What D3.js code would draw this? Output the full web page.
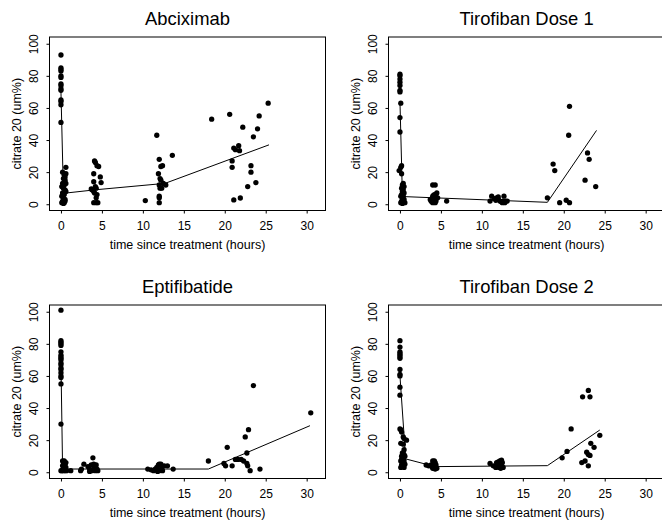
<!DOCTYPE html>
<html>
<head>
<meta charset="utf-8">
<script src="https://cdn.jsdelivr.net/npm/d3@7"></script>
<style>
  html, body { margin: 0; padding: 0; background: #ffffff; }
  svg { display: block; }
  text { font-family: "Liberation Sans", Arial, sans-serif; fill: #000; }
</style>
</head>
<body>
<svg id="chart" width="662" height="525"></svg>
<script>
// ---------------- DATA ----------------
const panelTitles = ["Abciximab", "Tirofiban Dose 1", "Eptifibatide", "Tirofiban Dose 2"];
const xTicks = [0, 5, 10, 15, 20, 25, 30];
const yTicks = [0, 20, 40, 60, 80, 100];
const xLabel = "time since treatment (hours)";
const yLabel = "citrate 20 (um%)";

// Abciximab: observed [hours, value]
const abciximabPoints = [
  [0,93],[0,85],[0,84],[0,83],[0,80],[0,79],[0,75],[0,74],[0,72],[0,71],[0,65],[0,64],[0,62],[0,51],
  [0.2,20],[0.4,18],[0.3,16],[0.5,15],[0.2,13],[0.4,12],[0.3,10],[0.5,9],[0.2,7],[0.4,6],[0.1,5],[0.3,4],
  [0.5,3],[0.2,2],[0.4,1],[0.3,0.5],[0.6,23],[0.5,17],[0.6,13],[0.6,8],[0.5,2],[0.1,1],[0.6,19],[0.1,11],
  [4.1,27],[4.2,26],[4.4,24],[4.6,23.5],[4.8,17],[4.9,13.5],[4.0,19],[4.0,14],[3.8,9],[4.0,8],[4.2,11],
  [4.3,10],[4.1,7],[4.4,6],[4.3,4],[4.0,1],[4.3,1],[4.5,1],[3.7,9.5],
  [10.3,2.3],
  [11.7,43],[12.0,28],[11.9,19],[12.2,23.5],[12.4,24],[12.1,16],[12.2,15],[12.0,12],[12.1,10],[12.3,10],
  [12.0,5],[12.0,4],[12.0,1],[12.8,12],[13.6,30.5],[12.5,13],
  [18.4,53],[20.6,56],[20.9,27],[20.9,23],[21.1,35],[21.3,34],[21.1,2.7],[21.7,36.5],[21.8,33.4],[22.2,48],
  [21.9,3.9],[22.8,11],[23.2,24],[23.2,20],[23.5,42],[23.8,13.5],[24.0,47],[24.2,55],[25.3,63]
];
const abciximabFit = [[0,70],[0.3,6.8],[4.2,9],[12.7,13],[25.4,37]];

// Tirofiban Dose 1
const tirofiban1Points = [
  [0,81],[0,80],[0,78],[0,76],[0,74],[0,71],[0,70],[0.1,63],[0,54],[0,45],[0.2,24],[0.1,23],[-0.1,21],[0.2,19],
  [0.4,13],[0.3,12],[0.5,11],[0.2,10],[0.4,9],[0.3,8],[0.5,7],[0.2,6],[0.4,5],[0.1,5],[0.3,4],[0.5,3],[0.2,2],
  [0.4,1.5],[0.6,1],[0.1,1],[0.3,0.5],
  [4.0,12],[4.3,12],[3.7,3],[3.8,2],[4.0,4],[4.0,5],[4.2,6],[4.5,7],[4.2,3],[4.3,1],[4.0,1],[4.4,2],[3.9,1.5],
  [4.6,4],[4.1,5.5],[4.4,4.5],[5.7,2],
  [11.0,2],[11.2,5],[11.5,3.5],[11.8,4],[12.0,3],[12.2,2],[12.4,1.5],[12.5,1],[12.6,2],[12.7,5],[12.9,2],
  [13.1,2],[12.0,4.5],[11.7,2.5],[12.8,1],
  [18.0,4],[18.7,25],[18.9,21],[19.5,1],[20.3,2.5],[20.6,43],[20.7,61],[20.7,1],[22.6,15],[22.9,32],[23.1,28],[23.9,11]
];
const tirofiban1Fit = [[0,64],[0.3,4.8],[18,1.2],[24,46]];

// Eptifibatide
const eptifibatidePoints = [
  [0,101],[0,82],[0,81],[0,80],[0,79],[0,75],[0,73],[0,72],[0,71],[0,70],[0,68],[0,67],[0,65],[0,64],[0,62],
  [0,60],[0,59],[0,55],[0,30],
  [0.2,7],[0.4,7],[0.6,6],[0.3,5],[0.5,5],[0.2,4],[0.4,3],[0.6,3],[0.3,2],[0.5,2],[0.1,1],[0.3,1],[0.5,1],
  [0.7,1],[0,1],[1.2,1],
  [2.4,1],[2.5,2],[2.8,5],[3.3,3.5],[3.5,2],[3.7,4.5],[3.8,1],[3.9,9],[4.0,5],[4.1,3],[4.2,1],[4.3,4.5],
  [4.4,2],[4.5,1],[3.5,0.5],
  [10.6,2],[11.0,1.5],[11.3,1],[11.5,2],[11.7,3],[11.9,4.5],[12.0,5],[12.2,5],[12.3,3],[12.0,1],[11.8,0.5],
  [12.6,4],[13.0,4],[13.7,2],[12.4,1],
  [18.0,7],[19.9,5.5],[20.1,4],[20.3,15.5],[20.9,4],[21.3,8],[21.6,8],[22.0,8],[22.3,7],[22.5,22],[22.7,12],
  [22.7,5.5],[22.8,4],[22.9,26.5],[23.1,1],[23.5,54],[24.3,2],[30.5,37]
];
const eptifibatideFit = [[0,68],[0.2,2],[18,2],[30.4,29]];

// Tirofiban Dose 2
const tirofiban2Points = [
  [0,82],[0,78],[0,75],[0,74],[0,73],[0,72],[0,71],[0,64],[0,61],[0,60],[0,53],[0,48],[0,27],[0.1,26.5],
  [0.2,25],[0.4,22],[0.8,20],[0.5,21],[0.1,18],[0.4,17.5],[0.5,14],[0.3,12],[0.5,11],[0.2,10],[0.6,10],
  [0.4,9],[0.2,8],[0.5,7],[0.1,7],[0.3,6],[0.6,5],[0.4,4],[0.1,3],[0.5,3],[0.2,4.5],
  [3.2,4.5],[3.5,4],[3.8,4.5],[4.0,7],[4.2,7],[4.1,5.5],[4.3,6],[4.4,4.5],[4.2,3],[4.0,2.5],[4.5,2.5],
  [3.9,3.5],[4.3,2],
  [11.0,5.5],[11.4,4],[11.7,3],[11.9,5],[12.0,6.5],[12.2,7],[12.4,7.5],[12.5,6],[12.1,3],[12.3,2.5],
  [12.6,3],[12.0,4],[11.8,6],[12.4,4.5],
  [19.8,9],[20.4,13],[20.9,27],[22.2,6],[22.3,47],[22.6,7],[22.8,12.5],[23.0,11],[23.0,4],[23.0,51],
  [23.2,47],[23.3,18],[23.7,15.5],[24.4,23],[23.2,10.5]
];
const tirofiban2Fit = [[0,60],[0.7,8.3],[4.3,3.5],[18,4.1],[24.4,26.3]];

const xDomain = [-1.4, 32.3];
const yDomain = [-3.9, 104.2];

// ---------------- LAYOUT ----------------
const colLeft = [49.5, 388.5], colRight = [325.5, 664.5];
const rowTop = [37, 305], rowBottom = [210.5, 478.5];

const panels = [
  {title: panelTitles[0], pts: abciximabPoints, fit: abciximabFit, col: 0, row: 0},
  {title: panelTitles[1], pts: tirofiban1Points, fit: tirofiban1Fit, col: 1, row: 0},
  {title: panelTitles[2], pts: eptifibatidePoints, fit: eptifibatideFit, col: 0, row: 1},
  {title: panelTitles[3], pts: tirofiban2Points, fit: tirofiban2Fit, col: 1, row: 1}
];

const svg = d3.select("#chart");

panels.forEach(p => {
  const L = colLeft[p.col], R = colRight[p.col], T = rowTop[p.row], B = rowBottom[p.row];
  const x = d3.scaleLinear().domain(xDomain).range([L, R]);
  const y = d3.scaleLinear().domain(yDomain).range([B, T]);
  const g = svg.append("g");

  // title
  g.append("text")
    .attr("x", (L + R) / 2).attr("y", T - 12)
    .attr("text-anchor", "middle")
    .style("font-size", "18.4px")
    .text(p.title);

  // x axis
  const xa = g.append("g").attr("transform", `translate(0,${B})`)
    .call(d3.axisBottom(x).tickValues(xTicks).tickSize(3).tickSizeOuter(0).tickPadding(8));
  xa.select(".domain").remove();
  xa.selectAll("line").attr("stroke", "#000");
  xa.selectAll("text").style("font-size", "12px").attr("dy", null).attr("y", 19.5);

  // y axis
  const ya = g.append("g").attr("transform", `translate(${L},0)`)
    .call(d3.axisLeft(y).tickValues(yTicks).tickSize(3).tickSizeOuter(0));
  ya.select(".domain").remove();
  ya.selectAll("line").attr("stroke", "#000");
  ya.selectAll("text")
    .style("font-size", "12px")
    .attr("x", null).attr("dy", null)
    .attr("text-anchor", "middle")
    .attr("transform", "translate(-11.2,0) rotate(-90)");

  // axis titles
  g.append("text")
    .attr("x", (L + R) / 2).attr("y", B + 38.8)
    .attr("text-anchor", "middle")
    .style("font-size", "12.5px")
    .text(xLabel);
  g.append("text")
    .attr("transform", `translate(${L - 28.8},${(T + B) / 2}) rotate(-90)`)
    .attr("text-anchor", "middle")
    .style("font-size", "12.5px")
    .text(yLabel);

  // points
  g.append("g").selectAll("circle").data(p.pts).join("circle")
    .attr("cx", d => x(d[0])).attr("cy", d => y(d[1]))
    .attr("r", 2.65).attr("fill", "#000");

  // fitted line
  g.append("path").datum(p.fit)
    .attr("d", d3.line().x(d => x(d[0])).y(d => y(d[1])))
    .attr("fill", "none").attr("stroke", "#000").attr("stroke-width", 1);

  // frame
  g.append("rect")
    .attr("x", L).attr("y", T).attr("width", R - L).attr("height", B - T)
    .attr("fill", "none").attr("stroke", "#000").attr("stroke-width", 1);
});
</script>
</body>
</html>
